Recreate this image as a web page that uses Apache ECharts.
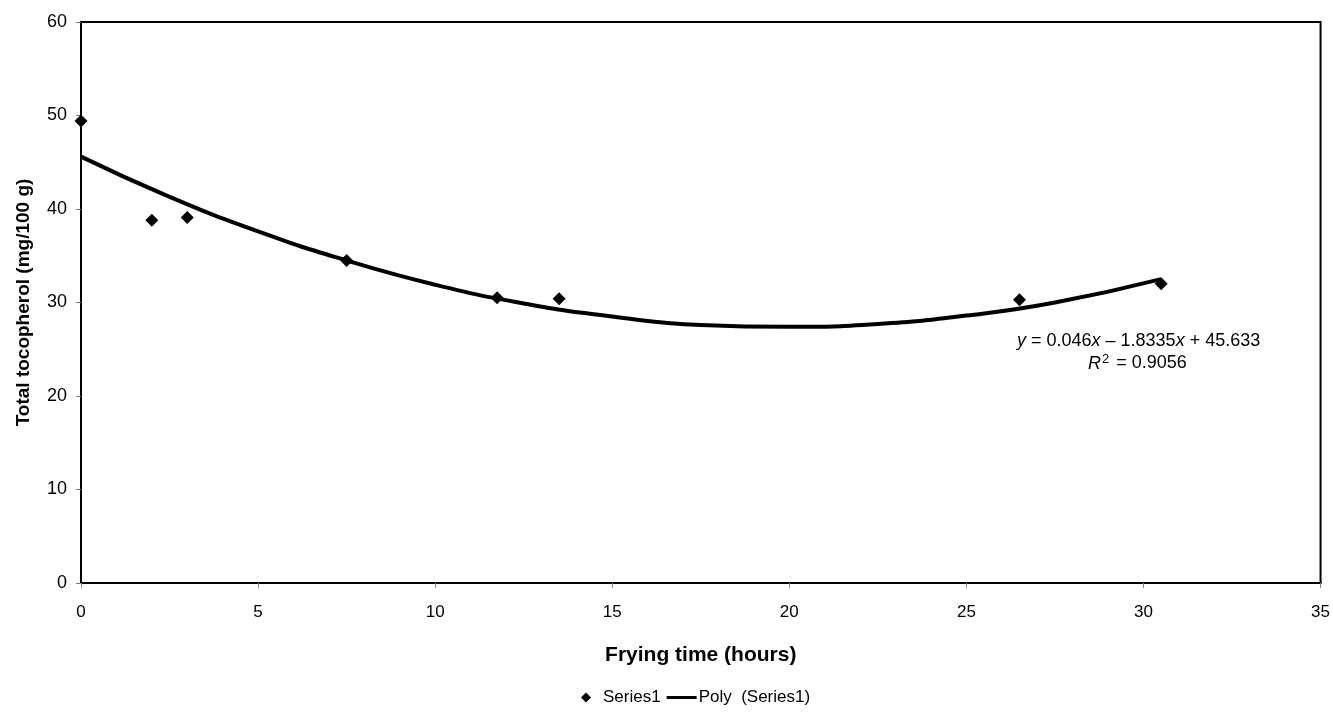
<!DOCTYPE html>
<html>
<head>
<meta charset="utf-8">
<script src="https://cdn.jsdelivr.net/npm/echarts@6/dist/echarts.min.js"></script>
<style>
  html, body { margin: 0; padding: 0; background: #fff; }
  #chart { width: 1333px; height: 713px; }
</style>
</head>
<body>
<div id="chart"></div>
<script>
// measured points
var fryHours = [0, 2, 3, 7.5, 11.75, 13.5, 26.5, 30.5];
var tocopherol = [49.4, 38.8, 39.1, 34.5, 30.5, 30.4, 30.3, 32.0];

// trend line
var polyHours = [0, 2.5, 5, 7.5, 10, 12.5, 15, 17.5, 20, 22.5, 25, 27.5, 30.5];
var polyValues = [45.6, 41.3, 37.6, 34.5, 31.9, 29.9, 28.5, 27.6, 27.4, 27.7, 28.6, 30.0, 32.5];

var xTicks = [0, 5, 10, 15, 20, 25, 30, 35];
var yTicks = [0, 10, 20, 30, 40, 50, 60];

function zip(a, b) {
  return a.map(function (v, i) { return [v, b[i]]; });
}

var chart = echarts.init(document.getElementById("chart"));

var font = "Liberation Sans, Arial, sans-serif";

var option = {
  animation: false,
  textStyle: { fontFamily: font },
  grid: {
    left: 81, top: 22, right: 12, bottom: 130,
    show: true, borderColor: "#000", borderWidth: 2, backgroundColor: "transparent"
  },
  xAxis: {
    type: "value",
    min: xTicks[0], max: xTicks[xTicks.length - 1], interval: 5,
    name: "Frying time (hours)",
    nameLocation: "middle", nameGap: 62,
    nameTextStyle: { fontSize: 21, fontWeight: "bold", color: "#000", fontFamily: font },
    axisLine: { lineStyle: { color: "#000", width: 2 } },
    axisTick: { show: true, length: 5, lineStyle: { color: "#888" } },
    axisLabel: { color: "#000", fontSize: 17, margin: 21, fontFamily: font },
    splitLine: { show: false }
  },
  yAxis: {
    type: "value",
    min: yTicks[0], max: yTicks[yTicks.length - 1], interval: 10,
    name: "Total tocopherol (mg/100 g)",
    nameLocation: "middle", nameGap: 48, nameRotate: 90,
    nameTextStyle: { fontSize: 19, fontWeight: "bold", color: "#000", fontFamily: font },
    axisLine: { show: true, lineStyle: { color: "#000", width: 2 } },
    axisTick: { show: true, length: 5, lineStyle: { color: "#777" } },
    axisLabel: { color: "#000", fontSize: 18, margin: 14, fontFamily: font },
    splitLine: { show: false }
  },
  legend: {
    bottom: 2, left: 576,
    itemGap: 6, itemWidth: 30, itemHeight: 10,
    textStyle: { fontSize: 17, color: "#000", fontFamily: font, padding: [0, 0, 0, -3] },
    data: [
      { name: "Series1", icon: "path://M5,0 L10,5 L5,10 L0,5 Z", itemStyle: { color: "#000" } },
      { name: "Poly  (Series1)", icon: "path://M0,0 L30,0 L30,3 L0,3 Z", itemStyle: { color: "#000" } }
    ]
  },
  graphic: [
    {
      type: "text", left: 1017, top: 332,
      style: {
        text: "{i|y} = 0.046{i|x} \u2013 1.8335{i|x} + 45.633",
        font: "18px " + font, fill: "#000",
        rich: { i: { fontStyle: "italic", fontSize: 18, fontFamily: font } }
      }
    },
    {
      type: "text", left: 1088, top: 353,
      style: {
        text: "{i|R}{s|2} = 0.9056",
        font: "18px " + font, fill: "#000",
        rich: {
          i: { fontStyle: "italic", fontSize: 18, fontFamily: font },
          s: { fontSize: 13, verticalAlign: "top", padding: [0, 2, 8, 1], fontFamily: font }
        }
      }
    }
  ],
  series: [
    {
      name: "Poly  (Series1)",
      type: "line",
      smooth: true,
      showSymbol: false,
      symbol: "none",
      data: zip(polyHours, polyValues),
      lineStyle: { color: "#000", width: 4 },
      itemStyle: { color: "#000" },
      z: 2
    },
    {
      name: "Series1",
      type: "scatter",
      symbol: "diamond",
      symbolSize: 13,
      data: zip(fryHours, tocopherol),
      itemStyle: { color: "#000", opacity: 1 },
      z: 3
    }
  ]
};

chart.setOption(option);
</script>
</body>
</html>
